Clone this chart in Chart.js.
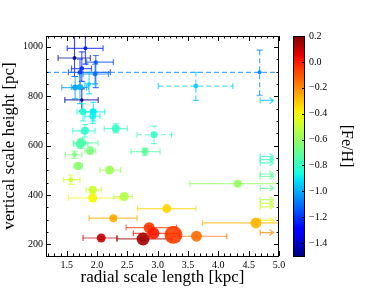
<!DOCTYPE html>
<html>
<head>
<meta charset="utf-8">
<script src="https://cdn.jsdelivr.net/npm/chart.js@4"></script>
<style>
  body { margin: 0; background: #fff; }
</style>
</head>
<body>
<canvas id="myChart" width="374" height="292"></canvas>
<script>
// radial scale length [kpc] with the two ends of its error bar
const radial   = [1.81, 1.63, 1.98, 1.75, 1.72, 1.97, 1.64, 1.72, 1.87, 1.75, 1.77, 1.94, 1.93, 1.80, 2.31, 2.94, 1.75, 1.72, 1.89, 2.79,
                  1.63, 1.69, 2.21, 1.57, 1.93, 1.93, 2.45, 2.27, 3.15, 4.32, 4.62, 2.07, 2.76, 2.86, 2.93, 3.26, 3.64, 4.68, 3.63];
const radialLo = [1.51, 1.36, 1.83, 1.58, 1.53, 1.77, 1.42, 1.58, 1.80, 1.47, 1.67, 1.80, 1.80, 1.60, 2.12, 2.66, 1.61, 1.62, 1.80, 2.56,
                  1.48, 1.62, 2.05, 1.45, 1.82, 1.53, 2.28, 1.87, 2.67, 3.53, 3.74, 1.77, 2.33, 2.48, 2.60, 3.15, 3.37, 0.50, 3.01];
const radialHi = [2.10, 1.89, 2.27, 1.91, 2.22, 2.19, 1.83, 1.86, 1.97, 2.02, 1.90, 2.13, 2.05, 1.97, 2.50, 3.23, 2.02, 1.85, 1.98, 3.04,
                  1.75, 1.76, 2.39, 1.72, 2.07, 2.38, 2.58, 2.66, 3.63, 5.10, 5.10, 2.33, 3.23, 3.31, 3.35, 3.37, 4.14, 6.00, 4.24];
// vertical scale height [pc] with the two ends of its error bar
const height   = [994, 955, 938, 912, 897, 890, 835, 837, 850, 785, 737, 737, 719, 660, 669, 644, 611, 607, 579, 576,
                  563, 517, 501, 462, 420, 388, 394, 306, 345, 446, 287, 226, 222, 268, 245, 239, 233, 897, 841];
const heightLo = [930, 880, 835, 860, 840, 850, 790, 770, 810, 740, 700, 700, 690, 635, 652, 608, 590, 590, 565, 560,
                  548, 505, 492, 443, 408, 375, 385, 300, 340, 440, 280, 220, 215, 262, 238, 232, 228, 804, 783];
const heightHi = [1060, 1050, 965, 980, 950, 930, 880, 890, 895, 830, 770, 775, 745, 685, 688, 679, 630, 625, 595, 590,
                  578, 530, 510, 481, 432, 400, 403, 312, 350, 452, 294, 232, 229, 274, 252, 246, 238, 987, 897];
const feh      = [-1.25, -1.45, -1.16, -1.22, -1.20, -1.10, -1.02, -0.99, -0.94, -1.45, -0.84, -0.90, -0.88, -0.82, -0.80, -0.80, -0.73, -0.75, -0.65, -0.72,
                  -0.65, -0.62, -0.58, -0.48, -0.48, -0.40, -0.54, -0.26, -0.34, -0.60, -0.28, 0.10, 0.15, -0.05, 0.00, -0.06, -0.15, -1.07, -0.95];
// relative marker weight (area)
const weight   = [4, 4, 4, 5, 5, 6, 9, 9, 4, 3, 12, 12, 12, 16, 16, 12, 20, 20, 16, 12,
                  6, 16, 20, 6, 16, 20, 20, 16, 20, 16, 30, 20, 42, 30, 36, 81, 30, 4, 6];
const poorFit  = [0, 0, 0, 0, 0, 0, 0, 0, 0, 0, 0, 0, 0, 0, 0, 1, 0, 0, 0, 0,
                  0, 0, 0, 0, 0, 0, 0, 0, 0, 0, 0, 0, 0, 0, 0, 0, 0, 1, 1];

// lower limits on the radial scale length
const limitR      = [4.69, 4.69, 4.69, 4.69, 4.69, 4.69, 4.69, 4.69, 4.69, 4.69, 4.69, 4.69];
const limitHeight = [783, 556, 543, 530, 485, 475, 427, 381, 366, 352, 297, 248];
const limitFeh    = [-0.95, -0.82, -0.80, -0.78, -0.72, -0.70, -0.70, -0.55, -0.50, -0.48, -0.40, -0.20];
const limitSpan = 0.22;

const xTicks  = [1.5, 2.0, 2.5, 3.0, 3.5, 4.0, 4.5, 5.0];
const yTicks  = [200, 400, 600, 800, 1000];
const cbTicks = [-1.4, -1.2, -1.0, -0.8, -0.6, -0.4, -0.2, 0.0, 0.2];
const fehMin = -1.5, fehMax = 0.2;

// matplotlib jet
const jetData = {
  r: [[0, 0], [0.35, 0], [0.66, 1], [0.89, 1], [1, 0.5]],
  g: [[0, 0], [0.125, 0], [0.375, 1], [0.64, 1], [0.91, 0], [1, 0]],
  b: [[0, 0.5], [0.11, 1], [0.34, 1], [0.65, 0], [1, 0]]
};
function channel(pts, t) {
  for (let k = 1; k < pts.length; k++) {
    if (t <= pts[k][0]) {
      const [t0, v0] = pts[k - 1], [t1, v1] = pts[k];
      return v0 + (v1 - v0) * (t - t0) / (t1 - t0);
    }
  }
  return pts[pts.length - 1][1];
}
function jet(v, a) {
  const t = Math.min(1, Math.max(0, (v - fehMin) / (fehMax - fehMin)));
  const c = ch => Math.round(255 * channel(jetData[ch], t));
  return `rgba(${c('r')},${c('g')},${c('b')},${a})`;
}

const serif = "'Liberation Serif', 'DejaVu Serif', serif";

const errorBars = {
  id: 'errorBars',
  beforeDatasetsDraw(chart) {
    const { ctx, chartArea: a, scales: { x, y } } = chart;
    const cap = 3;
    ctx.save();
    ctx.beginPath();
    ctx.rect(a.left, a.top, a.right - a.left, a.bottom - a.top);
    ctx.clip();
    ctx.lineWidth = 1.2;
    radial.forEach((r, i) => {
      const px = x.getPixelForValue(r), py = y.getPixelForValue(height[i]);
      const x0 = x.getPixelForValue(radialLo[i]), x1 = x.getPixelForValue(radialHi[i]);
      const y0 = y.getPixelForValue(heightLo[i]), y1 = y.getPixelForValue(heightHi[i]);
      ctx.strokeStyle = jet(feh[i], 0.7);
      ctx.setLineDash(poorFit[i] ? [5, 3] : []);
      ctx.beginPath();
      ctx.moveTo(x0, py); ctx.lineTo(x1, py);
      ctx.moveTo(px, y0); ctx.lineTo(px, y1);
      ctx.stroke();
      ctx.setLineDash([]);
      ctx.beginPath();
      ctx.moveTo(x0, py - cap); ctx.lineTo(x0, py + cap);
      ctx.moveTo(x1, py - cap); ctx.lineTo(x1, py + cap);
      ctx.moveTo(px - cap, y0); ctx.lineTo(px + cap, y0);
      ctx.moveTo(px - cap, y1); ctx.lineTo(px + cap, y1);
      ctx.stroke();
    });
    // arrows for the lower limits
    limitR.forEach((r, i) => {
      const x0 = x.getPixelForValue(r), x1 = x.getPixelForValue(r + limitSpan);
      const py = y.getPixelForValue(limitHeight[i]);
      ctx.strokeStyle = jet(limitFeh[i], 0.75);
      ctx.beginPath();
      ctx.moveTo(x0, py - cap); ctx.lineTo(x0, py + cap);
      ctx.moveTo(x0, py); ctx.lineTo(x1, py);
      ctx.moveTo(x1 - 4, py - 3); ctx.lineTo(x1, py); ctx.lineTo(x1 - 4, py + 3);
      ctx.stroke();
    });
    ctx.restore();
  }
};

const frame = {
  id: 'frame',
  afterDraw(chart) {
    const { ctx, chartArea: a, scales: { x, y, cb } } = chart;
    ctx.save();
    ctx.strokeStyle = '#000';
    ctx.lineWidth = 1;
    ctx.beginPath();
    for (let v = 1.2; v <= 5.001; v += 0.1) {
      const major = Math.abs(v * 2 - Math.round(v * 2)) < 1e-6;
      const len = major ? 5 : 2.5;
      const px = Math.round(x.getPixelForValue(v)) + 0.5;
      ctx.moveTo(px, a.bottom); ctx.lineTo(px, a.bottom - len);
      ctx.moveTo(px, a.top); ctx.lineTo(px, a.top + len);
    }
    for (let v = 200; v <= 1000; v += 50) {
      const len = v % 200 === 0 ? 5 : 2.5;
      const py = Math.round(y.getPixelForValue(v)) + 0.5;
      ctx.moveTo(a.left, py); ctx.lineTo(a.left + len, py);
      ctx.moveTo(a.right, py); ctx.lineTo(a.right - len, py);
    }
    ctx.stroke();
    ctx.strokeRect(Math.round(a.left) + 0.5, Math.round(a.top) + 0.5,
                   Math.round(a.right - a.left) - 1, Math.round(a.bottom - a.top));

    // colour bar
    const left = a.right + 14, w = 12;
    const top = cb.getPixelForValue(fehMax), bottom = cb.getPixelForValue(fehMin);
    for (let py = Math.floor(top); py < bottom; py++) {
      ctx.fillStyle = jet(cb.getValueForPixel(py + 0.5), 1);
      ctx.fillRect(left, py, w, 1);
    }
    ctx.strokeRect(left + 0.5, Math.round(top) + 0.5, w - 1, Math.round(bottom - top));
    ctx.beginPath();
    cbTicks.forEach(v => {
      const py = Math.round(cb.getPixelForValue(v)) + 0.5;
      ctx.moveTo(left + w, py); ctx.lineTo(left + w - 3, py);
    });
    ctx.stroke();
    ctx.restore();
  }
};

const ctx = document.getElementById("myChart").getContext("2d");
const chart = new Chart(ctx, {
  type: "scatter",
  data: {
    datasets: [{
      data: radial.map((r, i) => ({ x: r, y: height[i] })),
      backgroundColor: feh.map(v => jet(v, 0.9)),
      borderWidth: 0,
      pointRadius: weight.map(w => Math.sqrt(w)),
      pointHoverRadius: weight.map(w => Math.sqrt(w))
    }]
  },
  options: {
    responsive: false,
    animation: false,
    events: [],
    layout: { padding: { top: 29, left: 0, right: 0, bottom: 0 } },
    plugins: { legend: { display: false }, tooltip: { enabled: false } },
    scales: {
      x: {
        type: "linear", min: 1.16, max: 5.0,
        afterBuildTicks: s => { s.ticks = xTicks.map(v => ({ value: v })); },
        afterFit: s => { s.height = 33; },
        grid: { display: false, drawTicks: false },
        border: { display: false },
        ticks: { color: "#000", padding: 3, font: { family: serif, size: 10 }, callback: v => v.toFixed(1) },
        title: { display: true, text: "radial scale length [kpc]", color: "#000",
                 font: { family: serif, size: 17 }, padding: { top: 0, bottom: 1 } }
      },
      y: {
        type: "linear", min: 153, max: 1044,
        afterBuildTicks: s => { s.ticks = yTicks.map(v => ({ value: v })); },
        afterFit: s => { s.width = 46; },
        grid: { display: false, drawTicks: false },
        border: { display: false },
        ticks: { color: "#000", padding: 3, font: { family: serif, size: 10 }, callback: v => String(v) },
        title: { display: true, text: "vertical scale height [pc]", color: "#000",
                 font: { family: serif, size: 17 }, padding: { top: -1, bottom: 0 } }
      },
      cb: {
        type: "linear", axis: "y", position: "right", min: fehMin, max: fehMax,
        afterBuildTicks: s => { s.ticks = cbTicks.map(v => ({ value: v })); },
        afterFit: s => { s.width = 95; },
        grid: { display: false, drawTicks: false },
        border: { display: false },
        ticks: { color: "#000", padding: 30, font: { family: serif, size: 10 },
                 callback: v => (v < 0 ? "\u2212" : "") + Math.abs(v).toFixed(1) },
        title: { display: true, text: "[Fe/H]", color: "#000",
                 font: { family: serif, size: 16 }, padding: { top: 18, bottom: 0 } }
      }
    }
  },
  plugins: [errorBars, frame]
});
</script>
</body>
</html>
